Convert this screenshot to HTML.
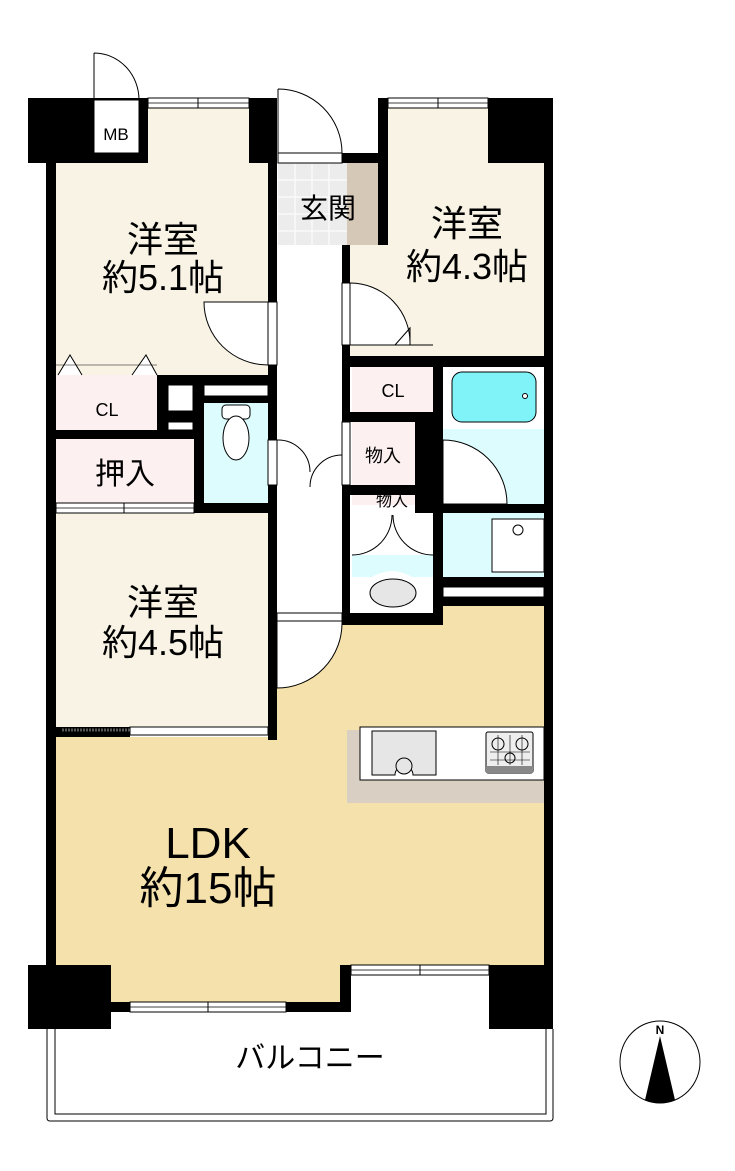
<!DOCTYPE html>
<html><head><meta charset="utf-8"><style>
html,body{margin:0;padding:0;background:#fff;}
svg{display:block}
text{font-family:"Liberation Sans","Noto Sans CJK JP",sans-serif;fill:#000}
</style></head><body>
<svg width="735" height="1171" viewBox="0 0 735 1171" xmlns="http://www.w3.org/2000/svg">
<!-- floors -->
<rect x="56" y="108" width="212" height="267" fill="#f8f3e5"/>
<path d="M388 108 H544 V356 H350 V245 H388 Z" fill="#f8f3e5"/>
<rect x="56" y="513" width="212" height="214" fill="#f8f3e5"/>
<path d="M56 737 H277 V620 H443 V606 H544 V965 H351 V1002 H111 V965 H56 Z" fill="#f5e1ab"/>
<!-- corridor -->
<rect x="277" y="245" width="65" height="368" fill="#fff"/>
<!-- entrance -->
<rect x="278" y="163" width="69" height="82" fill="#ececec"/>
<g stroke="#fff" stroke-width="1">
<path d="M278 180H347M278 197H347M278 214H347M278 231H347M295 163V245M312 163V245M329 163V245"/>
</g>
<rect x="347" y="163" width="31" height="82" fill="#d6c8b7"/>
<!-- closets -->
<rect x="56" y="375" width="101" height="55" fill="#fcf0f0"/>
<rect x="56" y="439" width="138" height="64" fill="#fcf0f0"/>
<rect x="352" y="367" width="81" height="45" fill="#fcf0f0"/>
<rect x="352" y="422" width="63" height="63" fill="#fcf0f0"/>
<rect x="352" y="495" width="81" height="10" fill="#fcf0f0"/>
<!-- wet areas -->
<rect x="204" y="403" width="64" height="100" fill="#dcfcfd"/>
<rect x="443" y="365" width="101" height="139" fill="#dcfcfd"/>
<rect x="443" y="365" width="101" height="64" fill="#fff"/>
<rect x="452" y="372" width="84" height="50" rx="10" fill="#7ff3f8" stroke="#000" stroke-width="1"/>
<circle cx="525" cy="396" r="2.5" fill="#fff" stroke="#000"/>
<path d="M443 440 A64 64 0 0 1 507 504 H443 Z" fill="#fff" stroke="#000"/>
<rect x="352" y="513" width="192" height="64" fill="#dcfcfd"/>
<path d="M352 513 H433 V555 H352 Z" fill="#fff"/>
<path d="M352 555 A40 40 0 0 0 392 515 M433 555 A40 40 0 0 1 393 515" fill="none" stroke="#000"/>
<rect x="492" y="519" width="52" height="53" fill="#fff" stroke="#000"/>
<circle cx="518" cy="530" r="5" fill="#fff" stroke="#000"/>
<path d="M352 577 H372 Q392 565 412 577 H433 V613 H352 Z" fill="#fff"/>
<ellipse cx="393" cy="593" rx="23" ry="14" fill="#e6e6e6" stroke="#000"/>
<!-- toilet -->
<rect x="222" y="405" width="28" height="14" rx="4" fill="#fff" stroke="#000"/>
<ellipse cx="236" cy="438" rx="13" ry="22" fill="#fff" stroke="#000"/>
<!-- walls -->
<g fill="#000">
<rect x="28" y="98" width="120" height="65"/>
<rect x="46" y="98" width="10" height="907"/>
<rect x="249" y="98" width="28" height="65"/>
<rect x="268" y="98" width="9" height="642"/>
<rect x="342" y="153" width="37" height="10"/>
<rect x="378" y="98" width="10" height="147"/>
<rect x="342" y="245" width="8" height="378"/>
<rect x="488" y="98" width="65" height="65"/>
<rect x="544" y="98" width="9" height="907"/>
<rect x="157" y="375" width="111" height="28"/>
<rect x="56" y="430" width="148" height="9"/>
<rect x="157" y="375" width="47" height="64"/>
<rect x="194" y="403" width="10" height="110"/>
<rect x="56" y="503" width="212" height="10"/>
<rect x="350" y="356" width="194" height="11"/>
<rect x="433" y="356" width="10" height="257"/>
<rect x="350" y="412" width="93" height="10"/>
<rect x="415" y="412" width="28" height="101"/>
<rect x="350" y="485" width="93" height="10"/>
<rect x="433" y="504" width="111" height="9"/>
<rect x="433" y="577" width="111" height="29"/>
<rect x="342" y="613" width="101" height="12"/>
<rect x="48" y="727" width="82" height="10"/>
<rect x="28" y="965" width="83" height="64"/>
<rect x="111" y="1002" width="240" height="10"/>
<rect x="340" y="965" width="11" height="47"/>
<rect x="489" y="965" width="64" height="64"/>
<rect x="471" y="780" width="73" height="8"/>
</g>
<!-- white inserts -->
<g fill="#fff" stroke="#000" stroke-width="1">
<rect x="94" y="100" width="45" height="53"/>
<rect x="168" y="385" width="25" height="26"/>
<rect x="168" y="422" width="25" height="8"/>
<rect x="204" y="385" width="64" height="11"/>
<rect x="443" y="587" width="101" height="10"/>
<rect x="148" y="98" width="101" height="10"/>
<rect x="388" y="98" width="100" height="10"/>
<rect x="130" y="1002" width="156" height="10"/>
<rect x="351" y="965" width="138" height="10"/>
<rect x="56" y="503" width="138" height="10"/>
<rect x="130" y="727" width="138" height="8"/>
<rect x="268" y="302" width="9" height="63"/>
<rect x="342" y="283" width="8" height="62"/>
<rect x="278" y="153" width="64" height="10"/>
<rect x="268" y="440" width="9" height="45"/>
</g>
<path d="M148 103H249M388 103H488M130 1007H286M351 970H489M56 508H194" stroke="#000" stroke-width="0.7"/>
<path d="M198 98V108M438 98V108M208 1002V1012M420 965V975M124 503V513" stroke="#000"/>
<path d="M62 730H130" stroke="#555" stroke-width="3" stroke-dasharray="2 1"/>
<!-- corridor door -->
<rect x="277" y="613" width="65" height="8" fill="#fff" stroke="#000"/>
<path d="M277 621 H342 A65 65 0 0 1 277 688 Z" fill="#fff" stroke="#000"/>
<!-- doors -->
<path d="M94 53 A45 47 0 0 1 139 100 M94 53 V100" fill="none" stroke="#000"/>
<path d="M278 89 A64 64 0 0 1 342 153 M278 89 V153" fill="none" stroke="#000"/>
<path d="M204 302 H268 V365 A64 63 0 0 1 204 302 Z" fill="#fff" stroke="#000"/>
<path d="M350 283 A60 60 0 0 1 410 345 H350 Z" fill="#fff" stroke="#000"/>
<path d="M395 345 L410 328 L410 345 M395 345 H433" fill="none" stroke="#000"/>
<path d="M58 375 L70 355 L82 375 M132 375 L146 355 L157 375" fill="#fff" stroke="#000"/>
<path d="M56 365 H157" stroke="#000" stroke-width="0.5"/>
<path d="M277 440 A32 32 0 0 1 310 472 M342 455 A32 32 0 0 0 310 487" fill="none" stroke="#000"/>
<rect x="342" y="422" width="8" height="63" fill="#fff" stroke="#000"/>
<!-- kitchen -->
<rect x="347" y="730" width="197" height="73" fill="#d9d0c3"/>
<rect x="360" y="727" width="184" height="53" fill="#fff" stroke="#000"/>
<path d="M372 731 H436 V775 H413 A9 9 0 0 0 395 775 H372 Z" fill="#e6e6e6" stroke="#000"/>
<circle cx="404" cy="766" r="8" fill="#e6e6e6" stroke="#000"/>
<rect x="486" y="732" width="47" height="41" rx="2" fill="#eee" stroke="#000"/>
<rect x="486" y="766" width="47" height="7" fill="#888"/>
<circle cx="498" cy="744" r="6" fill="none" stroke="#000"/><circle cx="522" cy="744" r="6" fill="none" stroke="#000"/><circle cx="510" cy="758" r="5" fill="none" stroke="#000"/>
<path d="M490 752H530M490 760H530M498 735V765M510 735V765M522 735V765" stroke="#000" stroke-width="0.6"/>
<!-- balcony -->
<path d="M47 1029 V1118 Q47 1121 50 1121 H550 Q553 1121 553 1118 V1029" fill="none" stroke="#000"/>
<path d="M55 1029 V1114 H546 V1029" fill="none" stroke="#000"/>
<!-- compass -->
<ellipse cx="660" cy="1062" rx="40" ry="41" fill="#fff" stroke="#000"/>
<path d="M660 1036 L645 1100 Q660 1106 675 1100 Z" fill="#000"/>
<text x="660" y="1034" font-size="12" font-weight="bold" text-anchor="middle" font-family="Liberation Serif">N</text>
<!-- labels -->
<g text-anchor="middle">
<text x="116" y="140" font-size="17">MB</text>
<text x="163" y="252" font-size="36">洋室</text>
<text x="163" y="290" font-size="36">約5.1帖</text>
<text x="467" y="236" font-size="36">洋室</text>
<text x="467" y="279" font-size="36">約4.3帖</text>
<text x="163" y="615" font-size="36">洋室</text>
<text x="163" y="655" font-size="36">約4.5帖</text>
<text x="208" y="858" font-size="44">LDK</text>
<text x="208" y="903" font-size="44">約15帖</text>
<text x="328" y="218" font-size="28">玄関</text>
<text x="107" y="416" font-size="18">CL</text>
<text x="393" y="397" font-size="18">CL</text>
<text x="125" y="484" font-size="30">押入</text>
<text x="383" y="462" font-size="18">物入</text>
<text x="392" y="506" font-size="16">物入</text>
<text x="310" y="1068" font-size="30">バルコニー</text>
</g>
</svg>
</body></html>
